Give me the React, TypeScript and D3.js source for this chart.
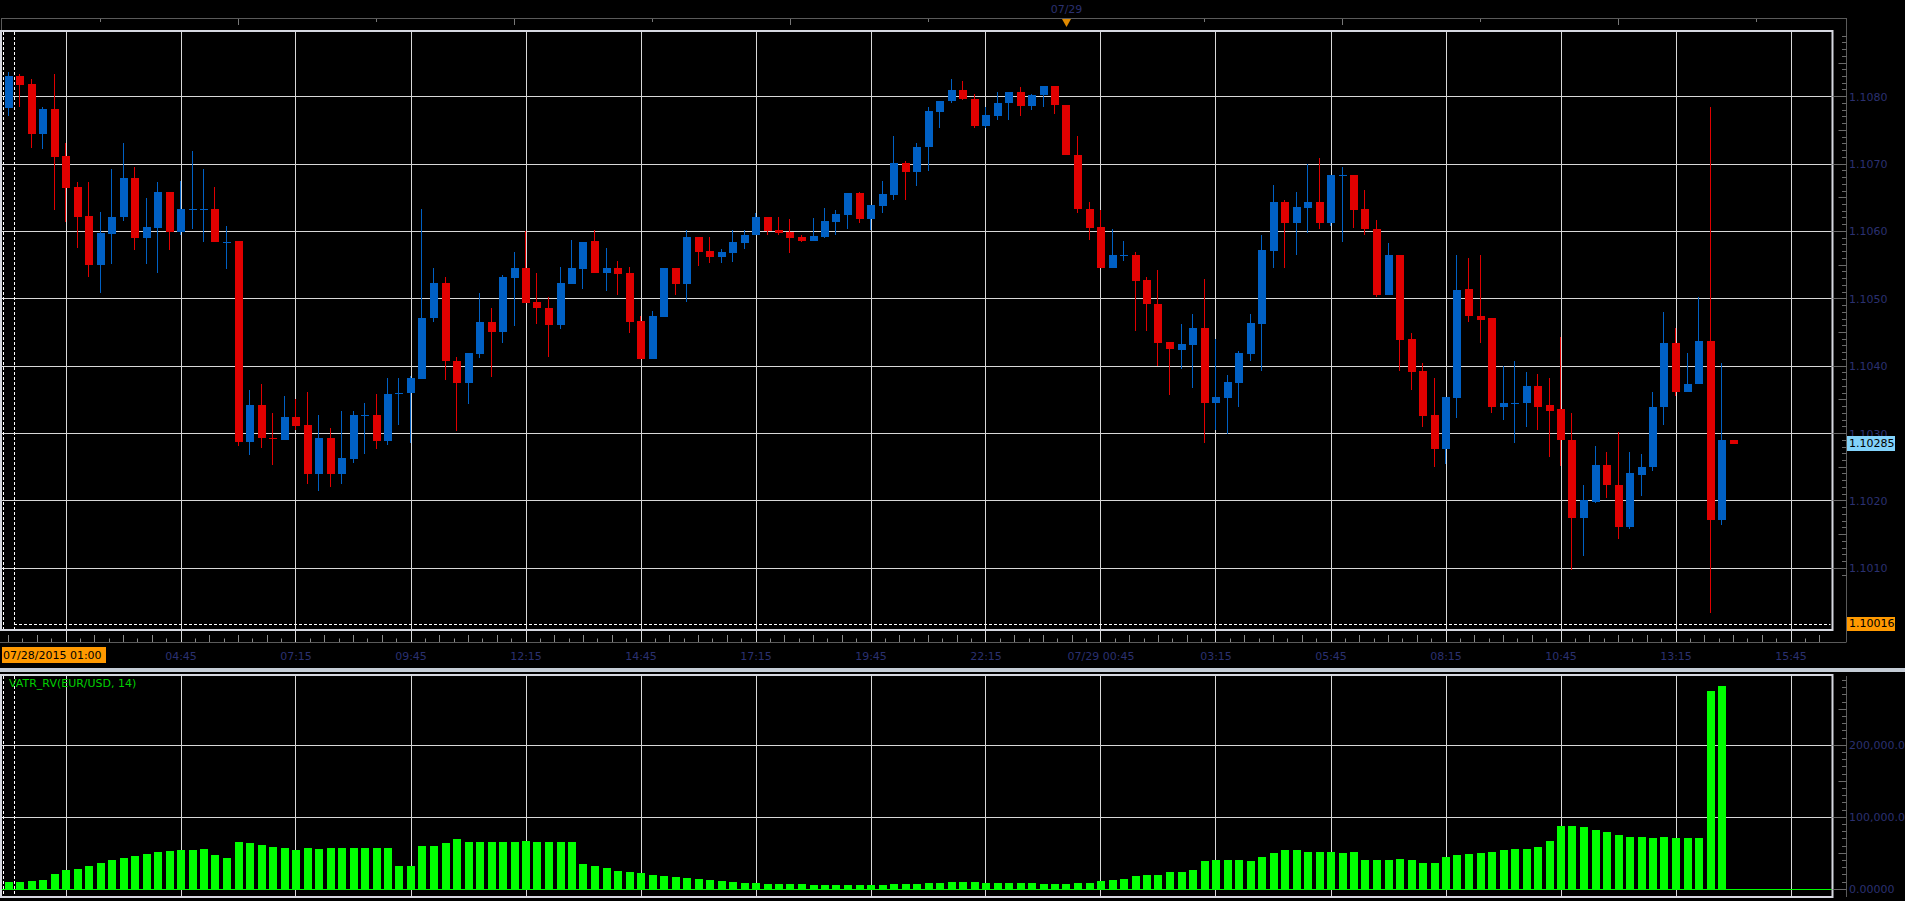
import React from "react";
import * as d3 from "d3";

// ---- Data (EUR/USD 15-minute candles, 07/28/2015 01:00 onward) ----
const opens = [
  1.10783, 1.10831, 1.10819, 1.10744, 1.10782, 1.10712, 1.10666, 1.10623, 1.1055, 1.10596,
  1.10621, 1.1068, 1.10591, 1.10605, 1.10658, 1.10599, 1.10633, 1.10633, 1.10634, 1.10584,
  1.10586, 1.10287, 1.10343, 1.10294, 1.10291, 1.10325, 1.10312, 1.1024, 1.10294, 1.1024,
  1.10262, 1.10326, 1.10328, 1.10289, 1.10359, 1.1036, 1.10381, 1.10471, 1.10524, 1.10408,
  1.10375, 1.10418, 1.10465, 1.10451, 1.10531, 1.10545, 1.10495, 1.10487, 1.10461, 1.10522,
  1.10544, 1.10586, 1.10539, 1.10546, 1.10538, 1.10467, 1.1041, 1.10473, 1.10546, 1.10522,
  1.10592, 1.10571, 1.10562, 1.10568, 1.10583, 1.10594, 1.10621, 1.10602, 1.10599, 1.10592,
  1.10586, 1.10592, 1.10614, 1.10625, 1.10657, 1.10619, 1.10638, 1.10654, 1.10701, 1.10688,
  1.10725, 1.10778, 1.10793, 1.1081, 1.10797, 1.10757, 1.10772, 1.1079, 1.10807, 1.10786,
  1.10802, 1.10816, 1.10788, 1.10714, 1.10634, 1.10606, 1.10545, 1.10564, 1.10565, 1.10528,
  1.10493, 1.10436, 1.10424, 1.10432, 1.10457, 1.10346, 1.10353, 1.10375, 1.10418, 1.10463,
  1.10571, 1.10643, 1.10613, 1.10635, 1.10643, 1.10613, 1.10683, 1.10684, 1.10634, 1.10604,
  1.10505, 1.10565, 1.10441, 1.10393, 1.10328, 1.10277, 1.10353, 1.10514, 1.10475, 1.10471,
  1.10339, 1.10345, 1.10345, 1.10371, 1.10342, 1.10336, 1.10291, 1.10174, 1.10199, 1.10254,
  1.10224, 1.10161, 1.10239, 1.1025, 1.10339, 1.10434, 1.10361, 1.10373, 1.10438, 1.10172,
  1.10291,
];
const highs = [
  1.10836, 1.10833, 1.10827, 1.10784, 1.10833, 1.10732, 1.10674, 1.10674, 1.10629, 1.10693,
  1.10732, 1.10695, 1.10649, 1.10674, 1.10658, 1.10675, 1.1072, 1.10692, 1.10666, 1.10608,
  1.10586, 1.10364, 1.10374, 1.10331, 1.10356, 1.10352, 1.10362, 1.10327, 1.10308, 1.10334,
  1.10334, 1.10346, 1.10358, 1.10382, 1.10382, 1.10386, 1.10633, 1.10545, 1.10532, 1.10413,
  1.10419, 1.10509, 1.10487, 1.10536, 1.1057, 1.10601, 1.10539, 1.10503, 1.10547, 1.10587,
  1.10585, 1.10602, 1.10575, 1.10556, 1.10547, 1.10474, 1.10482, 1.10546, 1.10546, 1.10602,
  1.10592, 1.10592, 1.10574, 1.10602, 1.10602, 1.10627, 1.10621, 1.10621, 1.10618, 1.10595,
  1.1062, 1.10635, 1.10632, 1.10657, 1.10658, 1.10639, 1.10675, 1.10742, 1.10704, 1.10732,
  1.10785, 1.10794, 1.10827, 1.10824, 1.10804, 1.10784, 1.10807, 1.10807, 1.10815, 1.10804,
  1.10816, 1.10816, 1.10788, 1.10742, 1.10643, 1.10632, 1.10603, 1.10586, 1.1057, 1.10532,
  1.10543, 1.10436, 1.10462, 1.10478, 1.1053, 1.10441, 1.10387, 1.10423, 1.10478, 1.10595,
  1.10669, 1.10646, 1.10659, 1.107, 1.10709, 1.10684, 1.10695, 1.10684, 1.10662, 1.10617,
  1.10583, 1.10565, 1.1045, 1.10404, 1.10383, 1.10355, 1.10565, 1.1056, 1.10565, 1.10471,
  1.104, 1.10407, 1.10392, 1.10388, 1.10382, 1.10444, 1.10331, 1.10224, 1.10282, 1.10273,
  1.10302, 1.10272, 1.1027, 1.10361, 1.1048, 1.10456, 1.10419, 1.10502, 1.10784, 1.10404,
  1.10291,
];
const lows = [
  1.10771, 1.10784, 1.10724, 1.10723, 1.10632, 1.10614, 1.10575, 1.10532, 1.10508, 1.10551,
  1.10616, 1.10573, 1.10551, 1.10538, 1.10572, 1.10594, 1.10603, 1.10585, 1.10584, 1.10544,
  1.10282, 1.10268, 1.10278, 1.10254, 1.10291, 1.10306, 1.10225, 1.10215, 1.1022, 1.10225,
  1.10256, 1.10269, 1.10277, 1.10283, 1.10312, 1.10286, 1.10381, 1.10465, 1.10379, 1.10304,
  1.10344, 1.10412, 1.10384, 1.10434, 1.10459, 1.10494, 1.10462, 1.10413, 1.10455, 1.10522,
  1.10514, 1.10539, 1.10512, 1.10505, 1.1045, 1.1041, 1.1041, 1.10473, 1.10505, 1.10496,
  1.10548, 1.10553, 1.10553, 1.10555, 1.10574, 1.10594, 1.10595, 1.10595, 1.10568, 1.10585,
  1.10586, 1.10591, 1.10595, 1.10604, 1.10613, 1.10602, 1.10628, 1.10646, 1.10646, 1.10668,
  1.10689, 1.10754, 1.1079, 1.10795, 1.10754, 1.10753, 1.10765, 1.10766, 1.10772, 1.10781,
  1.10784, 1.10775, 1.10713, 1.10627, 1.10587, 1.10545, 1.10545, 1.10556, 1.10452, 1.10452,
  1.104, 1.10357, 1.10396, 1.10368, 1.10286, 1.10306, 1.103, 1.1034, 1.10408, 1.10393,
  1.10545, 1.10545, 1.10565, 1.10598, 1.10603, 1.10608, 1.10585, 1.10605, 1.10594, 1.10503,
  1.10505, 1.10393, 1.10365, 1.1031, 1.10251, 1.10255, 1.10323, 1.10465, 1.10434, 1.1033,
  1.1032, 1.10286, 1.10309, 1.10305, 1.10265, 1.10252, 1.10098, 1.10118, 1.10197, 1.10204,
  1.10143, 1.10159, 1.10207, 1.10244, 1.10313, 1.10356, 1.10361, 1.10373, 1.10034, 1.10164,
  1.10285,
];
const closes = [
  1.10831, 1.10818, 1.10744, 1.10782, 1.10711, 1.10665, 1.10622, 1.1055, 1.10597, 1.10622,
  1.1068, 1.10591, 1.10606, 1.10658, 1.10599, 1.10634, 1.10634, 1.10634, 1.10584, 1.10585,
  1.10287, 1.10343, 1.10293, 1.10292, 1.10325, 1.10311, 1.1024, 1.10294, 1.1024, 1.10263,
  1.10327, 1.10327, 1.10289, 1.10359, 1.1036, 1.10382, 1.10472, 1.10524, 1.10407, 1.10375,
  1.10419, 1.10465, 1.10451, 1.10532, 1.10545, 1.10494, 1.10486, 1.10461, 1.10523, 1.10545,
  1.10585, 1.10539, 1.10546, 1.10537, 1.10466, 1.1041, 1.10474, 1.10546, 1.10522, 1.10592,
  1.1057, 1.10562, 1.10569, 1.10584, 1.10595, 1.10621, 1.10601, 1.10598, 1.10591, 1.10586,
  1.10593, 1.10615, 1.10626, 1.10657, 1.10619, 1.10639, 1.10655, 1.10701, 1.10688, 1.10726,
  1.10779, 1.10794, 1.1081, 1.10796, 1.10757, 1.10773, 1.10791, 1.10807, 1.10786, 1.10803,
  1.10816, 1.10787, 1.10713, 1.10633, 1.10605, 1.10545, 1.10565, 1.10565, 1.10527, 1.10492,
  1.10435, 1.10425, 1.10433, 1.10457, 1.10346, 1.10355, 1.10377, 1.1042, 1.10464, 1.10573,
  1.10643, 1.10613, 1.10637, 1.10643, 1.10613, 1.10684, 1.10684, 1.10632, 1.10603, 1.10505,
  1.10565, 1.10439, 1.10392, 1.10326, 1.10277, 1.10355, 1.10513, 1.10474, 1.10469, 1.10339,
  1.10346, 1.10346, 1.10371, 1.1034, 1.10334, 1.1029, 1.10174, 1.10201, 1.10254, 1.10223,
  1.10161, 1.10241, 1.10251, 1.1034, 1.10434, 1.10361, 1.10374, 1.10438, 1.10172, 1.1029,
  1.10285,
];
// VATR_RV(EUR/USD, 14) indicator values (last bar has no value yet)
const vatr: (number | null)[] = [
  9700, 10200, 11600, 13000, 21300, 26900, 28200, 32400, 36600, 40700,
  43500, 46300, 49100, 51900, 53200, 54600, 54600, 56000, 47700, 43500,
  65700, 64400, 61600, 58800, 57400, 54600, 57400, 56000, 57400, 57400,
  57400, 57400, 57400, 57400, 32400, 32400, 60200, 60200, 64400, 69900,
  65700, 65700, 66000, 66000, 66000, 67500, 66000, 66000, 66000, 66000,
  35000, 32000, 29000, 26000, 24000, 22000, 20000, 19000, 17000, 16000,
  15000, 13000, 12000, 10000, 9000, 8500, 8000, 7500, 7000, 7000,
  6500, 6500, 6000, 6000, 6000, 6500, 6500, 7500, 7500, 8000,
  9000, 9000, 9500, 9500, 9500, 9000, 9000, 9000, 8500, 8500,
  8000, 8000, 7500, 8500, 9000, 12000, 13500, 15000, 18500, 20000,
  20000, 23500, 24000, 27000, 39000, 40500, 40500, 40500, 39000, 45500,
  50500, 54000, 54000, 52500, 52500, 52500, 50500, 52500, 40500, 40500,
  40500, 42000, 40500, 37000, 37000, 45500, 47000, 49000, 50500, 52500,
  54000, 55500, 55500, 59000, 67500, 87500, 87500, 86000, 82500, 79000,
  76000, 72500, 72500, 71000, 72500, 71000, 71000, 71700, 275400, 282400,
  null,
];
const priceTicks = [1.101, 1.102, 1.103, 1.104, 1.105, 1.106, 1.107, 1.108];
const vatrTicks = [0, 100000, 200000];
const vatrTickLabels = ["0.00000", "100,000.00000", "200,000.00000"];
// vertical grid lines every 10 bars, starting at bar 5 (02:15)
const gridBars = [5, 15, 25, 35, 45, 55, 65, 75, 85, 95, 105, 115, 125, 135, 145, 155];
// label under the first grid line is hidden by the start-date box in the reference
const timeLabels = [
  "", "04:45", "07:15", "09:45", "12:15", "14:45", "17:15", "19:45",
  "22:15", "07/29 00:45", "03:15", "05:45", "08:15", "10:45", "13:15", "15:45",
];
const startLabel = "07/28/2015 01:00";
const dayMarkerLabel = "07/29";
const dayMarkerBar = 92;
const lastPrice = 1.10285;
const markerPrice = 1.10016;
const indicatorName = "VATR_RV(EUR/USD, 14)";

const FONT = "'DejaVu Sans', Verdana, sans-serif";
const NAVY = "#2b3170";
const UP = "#0060c4";
const DOWN = "#e00000";
const GRID = "#d8d8d8";
const AXIS = "#5a5a5a";
const FRAME = "#d6d8e0";

export default function App() {
  const n = opens.length;
  const x = d3.scaleLinear().domain([0, 150]).range([8.5, 1733.5]);
  const yP = d3.scaleLinear().domain([1.101, 1.108]).range([568.3, 96.7]);
  const yV = d3.scaleLinear().domain([0, 200000]).range([889.3, 745.3]);
  const px = (v: number) => Math.floor(v) + 0.5;

  const mainTop = 32, mainBot = 629, botTop = 676, botBot = 896;
  const frameRight = 1831.5;
  const axisX = 1846.5;

  // price axis ticks every 0.0001
  const pTicks: { y: number; len: number }[] = [];
  for (let k = 11009; k <= 11090; k++) {
    const p = k / 10000;
    const y = yP(p);
    if (y < mainTop + 1 || y > mainBot) continue;
    const len = k % 10 === 0 ? 14 : k % 5 === 0 ? 8 : 4.5;
    pTicks.push({ y, len });
  }
  // indicator axis ticks every 10,000
  const vTicks: { y: number; len: number }[] = [];
  for (let v = 0; v <= 290000; v += 10000) {
    const y = yV(v);
    if (y < botTop + 1) continue;
    const len = v % 100000 === 0 ? 14 : v % 50000 === 0 ? 8 : 4.5;
    vTicks.push({ y, len });
  }
  // time axis ticks (8 per grid interval)
  const tTicks: { x: number; h: number }[] = [];
  for (let k = -4; k < 130; k++) {
    const xi = x(5 + k * 1.25);
    if (xi > frameRight) break;
    if (k % 8 === 0) continue;
    tTicks.push({ x: xi, h: k % 2 === 0 ? 7 : 3.5 });
  }
  // top overview ticks every 3 hours (12 bars)
  const topTicks: { x: number; h: number }[] = [];
  for (let i = 8; i <= 160; i += 12) {
    if (i === dayMarkerBar) continue;
    const xi = x(i);
    if (xi > axisX) break;
    const hour = (1 + i / 4) % 24;
    topTicks.push({ x: xi, h: hour % 6 === 0 ? 6 : 3 });
  }

  const candles = d3.range(n).map((i) => {
    const o = opens[i], c = closes[i], h = highs[i], l = lows[i];
    const cx = x(i);
    const bx = Math.round(cx - 4);
    const yTop = Math.round(yP(Math.max(o, c)));
    const yBot = Math.round(yP(Math.min(o, c)));
    const color = c >= o ? UP : DOWN;
    const wTop = Math.round(yP(h));
    const wBot = Math.round(yP(l));
    return (
      <g key={"c" + i}>
        <rect x={bx + 3} y={wTop} width={1} height={Math.max(1, wBot - wTop)} fill={color} />
        <rect x={bx} y={yTop} width={8} height={Math.max(1, yBot - yTop)} fill={color} />
      </g>
    );
  });

  const bars = vatr.map((v, i) => {
    if (v == null) return null;
    const cx = x(i);
    const bx = Math.round(cx - 4);
    const yt = Math.round(yV(v));
    const yb = Math.round(yV(0));
    return <rect key={"v" + i} x={bx} y={yt} width={8} height={yb - yt} fill="#00ff00" />;
  });

  const mkY = yP(markerPrice);
  const lpY = yP(lastPrice);

  return (
    <div style={{ position: "absolute", left: 0, top: 0, width: 1905, height: 901, background: "#000" }}>
      <svg width={1905} height={901} style={{ display: "block" }} fontFamily={FONT}>
        <rect x={0} y={0} width={1905} height={901} fill="#000" />

        {/* top overview strip */}
        <line x1={1} x2={axisX} y1={18.5} y2={18.5} stroke={AXIS} />
        <line x1={1.5} x2={1.5} y1={18} y2={32} stroke={AXIS} />
        {topTicks.map((t, k) => (
          <line key={"tt" + k} x1={px(t.x)} x2={px(t.x)} y1={19} y2={19 + t.h} stroke="#777" />
        ))}
        <text x={x(dayMarkerBar)} y={9} fontSize={11} fill={NAVY} textAnchor="middle" dominantBaseline="central">
          {dayMarkerLabel}
        </text>
        <path
          d={`M${x(dayMarkerBar) - 4.5},19 L${x(dayMarkerBar) + 4.5},19 L${x(dayMarkerBar)},27 Z`}
          fill="#e08a00"
        />

        {/* vertical grid */}
        {gridBars.map((b) => {
          const xx = px(x(b));
          if (xx > frameRight) return null;
          return (
            <g key={"gv" + b}>
              <line x1={xx} x2={xx} y1={mainTop} y2={642} stroke={GRID} />
              <line x1={xx} x2={xx} y1={botTop} y2={botBot} stroke={GRID} />
            </g>
          );
        })}
        {/* horizontal grid */}
        {priceTicks.map((p) => (
          <line key={"gh" + p} x1={2} x2={frameRight} y1={px(yP(p))} y2={px(yP(p))} stroke={GRID} />
        ))}
        {vatrTicks.slice(1).map((v) => (
          <line key={"gvh" + v} x1={2} x2={frameRight} y1={px(yV(v))} y2={px(yV(v))} stroke={GRID} />
        ))}

        {/* candles */}
        {candles}

        {/* indicator bars */}
        {bars}
        <line x1={2} x2={frameRight} y1={px(yV(0))} y2={px(yV(0))} stroke="#00ff00" />

        {/* dashed helper lines */}
        <line x1={3.5} x2={3.5} y1={mainTop} y2={mainBot} stroke="#fff" strokeDasharray="3,2" />
        <line x1={14.5} x2={14.5} y1={mainTop} y2={mainBot} stroke="#fff" strokeDasharray="3,2" />
        <line x1={3.5} x2={3.5} y1={botTop} y2={botBot} stroke="#fff" strokeDasharray="3,2" />
        <line x1={14.5} x2={14.5} y1={botTop} y2={botBot} stroke="#fff" strokeDasharray="3,2" />
        <line x1={14} x2={frameRight - 1} y1={px(mkY)} y2={px(mkY)} stroke="#fff" strokeDasharray="3,2" />

        {/* frames */}
        <rect x={1} y={31} width={1831.5} height={599} fill="none" stroke={FRAME} strokeWidth={2} />
        <rect x={1} y={675} width={1831.5} height={222} fill="none" stroke={FRAME} strokeWidth={2} />

        {/* right axes */}
        <line x1={axisX} x2={axisX} y1={18} y2={642} stroke={AXIS} />
        <line x1={axisX} x2={axisX} y1={676} y2={897} stroke={AXIS} />
        {pTicks.map((t, k) => (
          <line key={"pt" + k} x1={axisX - t.len} x2={axisX} y1={px(t.y)} y2={px(t.y)} stroke="#6a6a6a" />
        ))}
        {vTicks.map((t, k) => (
          <line key={"vt" + k} x1={axisX - t.len} x2={axisX} y1={px(t.y)} y2={px(t.y)} stroke="#6a6a6a" />
        ))}
        {priceTicks.map((p) => (
          <text key={"pl" + p} x={1849} y={yP(p) + 0.5} fontSize={11} fill={NAVY} dominantBaseline="central">
            {p.toFixed(4)}
          </text>
        ))}
        {vatrTicks.map((v, k) => (
          <text key={"vl" + v} x={1849} y={yV(v) + 0.5} fontSize={11} fill={NAVY} dominantBaseline="central">
            {vatrTickLabels[k]}
          </text>
        ))}

        {/* last price & marker boxes */}
        <rect x={1847} y={Math.round(lpY) - 8} width={48} height={15} fill="#82d2fa" />
        <text x={1849} y={lpY} fontSize={11} fill="#000" dominantBaseline="central">
          {lastPrice.toFixed(5)}
        </text>
        <rect x={1847} y={Math.round(mkY) - 8} width={48} height={14} fill="#ff9900" />
        <text x={1849} y={mkY - 1} fontSize={11} fill="#000" dominantBaseline="central">
          {markerPrice.toFixed(5)}
        </text>

        {/* time axis */}
        <line x1={0} x2={axisX} y1={642.5} y2={642.5} stroke={AXIS} />
        {tTicks.map((t, k) => (
          <line key={"xt" + k} x1={px(t.x)} x2={px(t.x)} y1={642 - t.h} y2={642} stroke="#8a8a8a" />
        ))}
        {gridBars.map((b, k) => {
          const xx = x(b);
          if (xx > frameRight || !timeLabels[k]) return null;
          return (
            <text key={"xl" + b} x={xx} y={656} fontSize={11} fill={NAVY} textAnchor="middle" dominantBaseline="central">
              {timeLabels[k]}
            </text>
          );
        })}
        <rect x={2} y={647} width={104} height={16} fill="#ff9900" />
        <text x={3} y={655.5} fontSize={11} fill="#000" dominantBaseline="central">
          {startLabel}
        </text>

        {/* panel separator */}
        <rect x={0} y={668} width={1905} height={4} fill="#c4ccd6" />

        {/* indicator title */}
        <text x={9} y={683} fontSize={11} fill="#00d000" dominantBaseline="central">
          {indicatorName}
        </text>
      </svg>
    </div>
  );
}
